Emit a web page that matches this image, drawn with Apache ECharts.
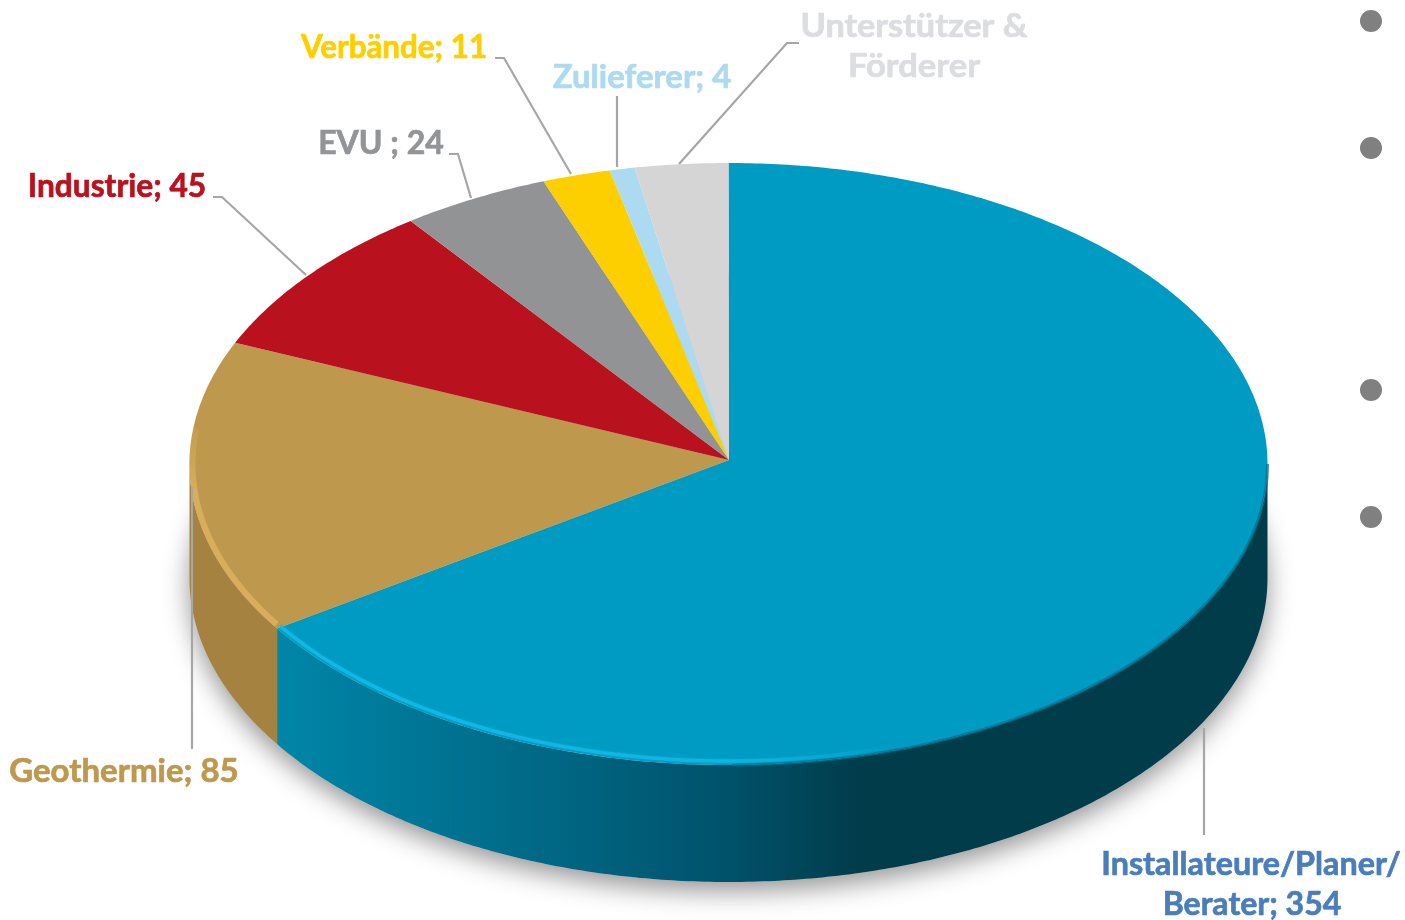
<!DOCTYPE html>
<html>
<head>
<meta charset="utf-8">
<style>
  html, body { margin: 0; padding: 0; background: #fff; }
  #container { width: 1405px; height: 920px; }
</style>
<script src="https://cdn.jsdelivr.net/npm/echarts@6/dist/echarts.min.js"></script>
</head>
<body>
<div id="container"></div>
<script>
const categories = ['Installateure/Planer/\nBerater', 'Geothermie', 'Industrie', 'EVU ', 'Verbände', 'Zulieferer', 'Unterstützer &\nFörderer'];
const values = [354, 85, 45, 24, 11, 4, 15];
const showValue = [true, true, true, true, true, true, false];
const sliceColors = ['#009bc3', '#bd984d', '#b9121e', '#929395', '#fdcf00', '#abdaf1', '#d5d5d5'];
const labelColors = ['#4a7ebb', '#be984d', '#b9121e', '#929497', '#fdcf00', '#abdaf1', '#dcdde0'];

// label centre per line: [x, y, horizontal squeeze]
const labelPos = [
	[[1251, 865, 1.01], [1252, 905, 1.0]],
	[[124, 772, 1.03]],
	[[117, 187, 0.99]],
	[[381, 144, 1.0]],
	[[394, 48, 0.98]],
	[[642, 78, 1.03]],
	[[914, 27, 1.07], [914, 67, 1.08]]
];
const leaders = [
	[[1204, 728], [1204, 835]],
	[[192, 487], [192, 749]],
	[[213, 197], [222, 197], [306, 275]],
	[[449, 154], [458, 154], [471, 198]],
	[[495, 58], [504, 58], [571, 174]],
	[[617, 96], [617, 167]],
	[[799, 43], [787, 43], [679, 164]]
];
const bullets = [21, 148, 390, 517];

// pie geometry in pixels (tilted disc)
const cx = 728.5, cy = 464, rx = 539, ry = 301;
const apex = [729, 460];
const depth = 114, baseRy = 304;
const total = values.reduce((a, b) => a + b, 0);

function topPt(a, shrink) {
	const s = shrink || 0;
	return [cx + (rx - s) * Math.sin(a), cy - (ry - s) * Math.cos(a)];
}
function basePt(a) {
	return [cx + rx * Math.sin(a), cy + depth - baseRy * Math.cos(a)];
}
function arc(fn, a0, a1, s) {
	const n = Math.max(2, Math.ceil(Math.abs(a1 - a0) / 0.01));
	const pts = [];
	for (let i = 0; i <= n; i++) {
		pts.push(fn(a0 + (a1 - a0) * i / n, s));
	}
	return pts;
}
function sliceStart(idx) {
	let sum = 0;
	for (let i = 0; i < idx; i++) sum += values[i];
	return sum / total * Math.PI * 2;
}
function hGrad(x0, x1, stops) {
	return new echarts.graphic.LinearGradient(x0, 0, x1, 0, stops, true);
}

const wallFill = [
	hGrad(280, 860, [
		{ offset: 0, color: '#0086a8' },
		{ offset: 0.22, color: '#007797' },
		{ offset: 0.55, color: '#00627e' },
		{ offset: 0.78, color: '#00516a' },
		{ offset: 1, color: '#013c4a' }
	]),
	'#a5823f'
];

function renderShadow() {
	return {
		type: 'polygon',
		shape: { points: arc(basePt, 0, Math.PI * 2) },
		style: {
			fill: '#cfcfcf',
			shadowColor: 'rgba(0,0,0,0.42)',
			shadowBlur: 26,
			shadowOffsetY: 9
		},
		silent: true
	};
}

function renderSlice(params) {
	const i = params.dataIndex;
	const a0 = sliceStart(i);
	const a1 = sliceStart(i + 1);
	const children = [];

	// outer wall, only the part of the slice facing the viewer
	const w0 = Math.max(a0, Math.PI / 2);
	const w1 = Math.min(a1, Math.PI * 1.5);
	if (w1 > w0) {
		children.push({
			type: 'polygon',
			shape: { points: arc(topPt, w0, w1).concat(arc(basePt, w1, w0)) },
			style: { fill: wallFill[i] || sliceColors[i] },
			z2: 1
		});
	}

	// top face
	children.push({
		type: 'polygon',
		shape: { points: [apex].concat(arc(topPt, a0, a1)) },
		style: { fill: sliceColors[i] },
		z2: 2
	});

	// bevel along the front rim
	if (i === 0) {
		children.push({
			type: 'polyline',
			shape: { points: arc(topPt, Math.PI / 2, a1 - 1.0, 0) },
			style: { fill: null, lineWidth: 3, stroke: '#01708c', opacity: 0.7 },
			z2: 3
		});
		children.push({
			type: 'polyline',
			shape: { points: arc(topPt, 1.2, a1, 4) },
			style: {
				fill: null,
				lineWidth: 3.5,
				stroke: hGrad(280, 900, [
					{ offset: 0, color: 'rgba(16,184,230,1)' },
					{ offset: 0.7, color: 'rgba(16,184,230,0.9)' },
					{ offset: 1, color: 'rgba(16,184,230,0)' }
				]),
				shadowColor: 'rgba(16,184,230,0.5)',
				shadowBlur: 3
			},
			z2: 3
		});
	}
	if (i === 1) {
		children.push({
			type: 'polyline',
			shape: { points: arc(topPt, a0 + 0.01, Math.PI * 1.5 + 0.12, 3) },
			style: {
				fill: null,
				lineWidth: 6,
				stroke: new echarts.graphic.LinearGradient(0, 410, 0, 490, [
					{ offset: 0, color: 'rgba(216,173,91,0)' },
					{ offset: 1, color: 'rgba(216,173,91,1)' }
				], true)
			},
			z2: 3
		});
	}

	// leader line
	children.push({
		type: 'polyline',
		shape: { points: leaders[i] },
		style: { fill: null, lineWidth: 2.2, stroke: '#a6a6a6' },
		z2: 5
	});

	// label, one text per line
	const text = categories[i] + (showValue[i] ? '; ' + values[i] : '');
	text.split('\n').forEach(function (line, k) {
		const p = labelPos[i][k];
		children.push({
			type: 'text',
			x: p[0],
			y: p[1],
			scaleX: p[2],
			style: {
				text: line,
				fill: labelColors[i],
				stroke: labelColors[i],
				lineWidth: 0.7,
				font: 'bold 32px Lato',
				textAlign: 'center',
				textVerticalAlign: 'middle'
			},
			z2: 6
		});
	});

	return { type: 'group', children: children };
}

const chart = echarts.init(document.getElementById('container'), null, { renderer: 'canvas' });
chart.setOption({
	animation: false,
	backgroundColor: '#fff',
	tooltip: { show: false },
	graphic: bullets.map(function (y) {
		return {
			type: 'circle',
			shape: { cx: 1371, cy: y, r: 11 },
			style: { fill: '#808080' }
		};
	}),
	series: [
		{
			type: 'custom',
			name: 'shadow',
			coordinateSystem: 'none',
			silent: true,
			z: 1,
			data: [total],
			renderItem: renderShadow
		},
		{
			type: 'custom',
			name: 'Mitglieder',
			coordinateSystem: 'none',
			silent: true,
			z: 2,
			data: categories.map(function (name, i) {
				return { name: name, value: values[i] };
			}),
			renderItem: renderSlice
		}
	]
});
</script>
</body>
</html>
